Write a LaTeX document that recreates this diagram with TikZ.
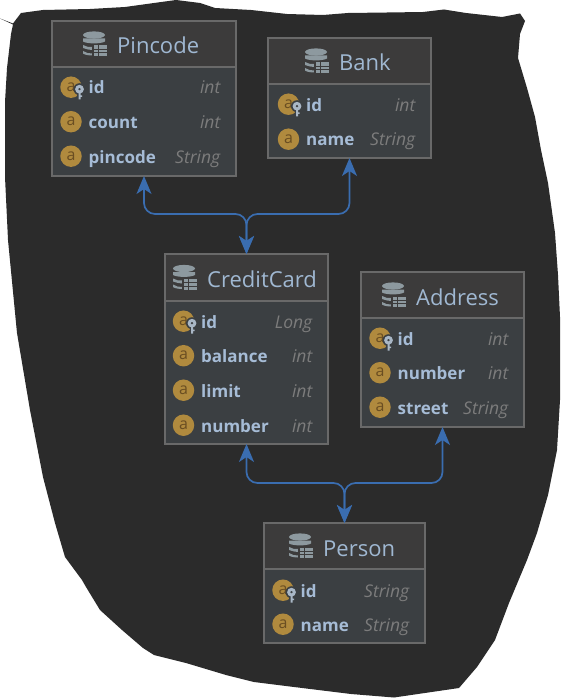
\documentclass[tikz,border=0pt]{standalone}
\usepackage{fontspec}
\setmainfont{Open Sans}
\usetikzlibrary{arrows.meta}
\definecolor{blobc}{HTML}{2B2B2B}
\definecolor{headc}{HTML}{3C3B3B}
\definecolor{bodyc}{HTML}{3B3F42}
\definecolor{edgec}{HTML}{696969}
\definecolor{titlec}{HTML}{A0B8D2}
\definecolor{fieldc}{HTML}{A6BCD6}
\definecolor{typec}{HTML}{7C7C7C}
\definecolor{attrc}{HTML}{B08A3E}
\definecolor{letterc}{HTML}{6A4E22}
\definecolor{iconc}{HTML}{8D999F}
\definecolor{keyc}{HTML}{A9B7C6}
\definecolor{linkc}{HTML}{3A6DB0}
\tikzset{
  box/.style={draw=edgec,line width=1.3pt,fill=bodyc,inner sep=0pt,outer sep=0pt},
  rule/.style={draw=edgec,line width=1.3pt},
  titletext/.style={text=titlec,font=\fontsize{22}{22}\selectfont,anchor=base west,inner sep=0pt},
  fieldtext/.style={text=fieldc,font=\fontsize{17}{17}\selectfont\bfseries,anchor=base west,inner sep=0pt},
  typetext/.style={text=typec,font=\fontsize{17.5}{17.5}\selectfont\itshape,anchor=base east,inner sep=0pt},
  badge/.style={circle,fill=attrc,minimum size=21.5pt,inner sep=0pt,text=letterc,font=\fontsize{16}{16}\selectfont},
  link/.style={draw=linkc,line width=1.7pt,rounded corners=11pt,{Stealth[length=18pt,width=15pt,inset=5pt]}-{Stealth[length=18pt,width=15pt,inset=5pt]}},
}
% name, x1, y1, x2, y2, header bottom, icon x, title, badge x
\newcommand{\entity}[9]{%
  \node[box,minimum width={(#4-#2)*1pt},minimum height={(#5-#3)*1pt}] (#1) at ({(#2+#4)/2},{(#3+#5)/2}) {};
  \fill[headc] (#2,#3) rectangle (#4,#6);
  \draw[rule] (#2,#6) -- (#4,#6);
  \draw[rule] (#1.north west) rectangle (#1.south east);
  \begin{scope}[shift={(#7,{(#3+#6)/2})}]
    \fill[iconc] (-1,-9) ellipse (11 and 3.6);
    \fill[iconc] (-12,-5.5) -- (10,-5.5) -- (10,-2.5) .. controls (6,0) and (-8,0) .. (-12,-2.5) -- cycle;
    \fill[iconc] (-12,1) .. controls (-9,3) and (-6,3) .. (-3,3) -- (-3,6) .. controls (-6,6) and (-9,5) .. (-12,4) -- cycle;
    \fill[iconc] (-12,7) .. controls (-9,9) and (-6,9.5) .. (-3,9.5) -- (-3,11.5) .. controls (-7,11.5) and (-11,10.5) .. (-12,9.5) -- cycle;
    \fill[headc] (-3,0) rectangle (13,13);
    \fill[iconc] (-1.5,1.5) rectangle (12,12);
    \draw[headc,line width=.8pt] (3,1.5) -- (3,12) (-1.5,5) -- (12,5) (-1.5,8.5) -- (12,8.5);
  \end{scope}
  \node[titletext] (#1-title) at (#7+22,{(#3+#6)/2+10}) {#8};
  \def\badgex{#9}\def\typex{#4}%
}
% id, row y, field, type
\newcommand{\field}[4]{%
  \node[badge] (#1-a) at (\badgex,#2-.8) {a};
  \node[fieldtext] (#1-name) at (\badgex+17.5,#2+6) {#3};
  \node[typetext] (#1-type) at (\typex-15.5,#2+6) {#4};
}
\newcommand{\keyfield}[4]{%
  \field{#1}{#2}{#3}{#4}%
  \fill[bodyc] (\badgex+8.5,#2+1.2) circle (6);
  \fill[bodyc] (\badgex+6,#2+3) rectangle (\badgex+11,#2+12);
  \fill[keyc,even odd rule] (\badgex+8.5,#2+1.2) circle (4.4) (\badgex+8.5,#2+1.2) circle (1.5);
  \fill[keyc] (\badgex+7.5,#2+5) rectangle (\badgex+9.5,#2+11.5) (\badgex+9.5,#2+7.5) rectangle (\badgex+11,#2+9);
}
\begin{document}
\begin{tikzpicture}[x=1pt,y=-1pt]
\useasboundingbox (0,0) rectangle (561,698);
\fill[white] (0,0) rectangle (561,698);
\fill[blobc,line join=round] (0,18.5) -- (13,23.5) -- (21,13) -- (43,10) -- (90,9) -- (125,7) -- (154,3) -- (176,0) -- (200,3) -- (215,8) -- (251,10) -- (287,14) -- (323,15) -- (348,13) -- (387,12.5) -- (423,12) -- (444,9.5) -- (466,13) -- (502,17) -- (520,13.5) -- (525,21) -- (520,34) -- (518,58) -- (527,88) -- (535,117) -- (541,150) -- (548,183) -- (555,233) -- (558,275) -- (560,317) -- (560,400) -- (557,450) -- (548,495) -- (537,533) -- (527,560) -- (509,603) -- (495,640) -- (477,667) -- (459,688) -- (394,697.5) -- (351,694) -- (294,687) -- (254,682) -- (226,675) -- (186,663) -- (154,655) -- (143,648) -- (122,630) -- (100,610) -- (86,587) -- (82,580) -- (65,557) -- (55,523) -- (43,477) -- (30,410) -- (17,333) -- (8,240) -- (5,177) -- (5,102) -- (7,68) -- (11,34) -- (13,24.5) -- cycle;

\coordinate (topjoin) at (246.5,214);
\coordinate (botjoin) at (344.5,483);

\entity{pin}{52}{21}{236}{176}{67}{95}{Pincode}{71}
\keyfield{pin-id}{88}{id}{int}
\field{pin-count}{122.5}{count}{int}
\field{pin-code}{157}{pincode}{String}

\entity{bank}{268}{38}{431}{158}{84}{317}{Bank}{288.5}
\keyfield{bank-id}{105}{id}{int}
\field{bank-name}{140}{name}{String}

\entity{card}{165}{254}{328}{444}{301}{185}{CreditCard}{183.5}
\keyfield{card-id}{322}{id}{Long}
\field{card-bal}{356.5}{balance}{int}
\field{card-lim}{391}{limit}{int}
\field{card-num}{426}{number}{int}

\entity{addr}{361}{272}{524}{427}{318}{394}{Address}{380}
\keyfield{addr-id}{339}{id}{int}
\field{addr-num}{373.5}{number}{int}
\field{addr-str}{408}{street}{String}

\entity{person}{264}{523}{425}{643}{569}{301}{Person}{283}
\keyfield{person-id}{591}{id}{String}
\field{person-name}{625}{name}{String}

\draw[link] (pin.south) |- (topjoin) -- (card.north);
\draw[link] (bank.south) |- (topjoin) -- (card.north);
\draw[link] (card.south) |- (botjoin) -- (person.north);
\draw[link] (addr.south) |- (botjoin) -- (person.north);
\end{tikzpicture}
\end{document}
